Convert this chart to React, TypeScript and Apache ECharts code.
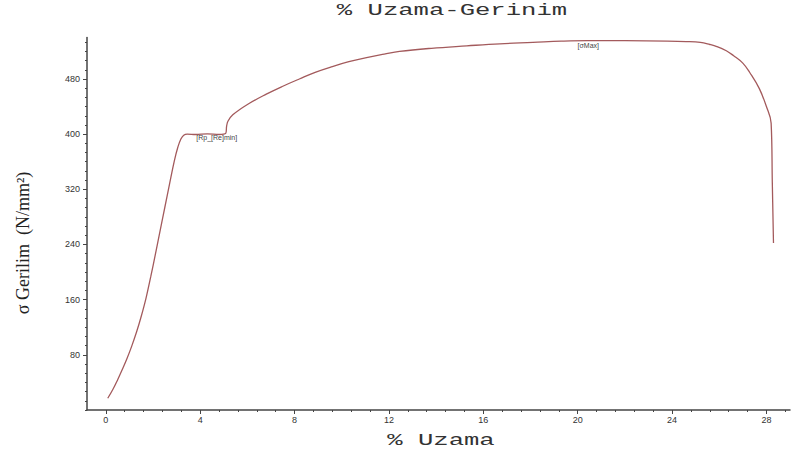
import React, { useEffect, useRef } from "react";
import * as echarts from "echarts";

const strain = [0.08, 0.3, 0.5, 0.7, 0.9, 1.1, 1.3, 1.5, 1.7, 1.9, 2.1, 2.3, 2.5, 2.7, 2.9, 3.05, 3.18, 3.3, 3.45, 3.8, 4.3, 4.8, 5.08, 5.12, 5.18, 5.38, 6.0, 6.8, 7.5, 8.2, 8.9, 9.6, 10.3, 11.05, 11.8, 12.45, 13.8, 15.3, 16.7, 18.1, 19.3, 20.4, 22.0, 23.8, 24.6, 25.2, 25.6, 25.9, 26.3, 26.6, 27.0, 27.3, 27.7, 28.0, 28.2, 28.25, 28.3];
const stress = [17, 30, 44, 59, 75, 93, 113, 136, 162, 193, 226, 260, 294, 328, 361, 381, 393, 398.5, 400, 399.5, 400.5, 399.5, 401, 412, 419, 428, 443, 458, 469.5, 480, 490, 498, 505, 511, 516, 520, 524.5, 528, 531, 533, 534.8, 535.6, 535.5, 535, 534.3, 533, 530, 527, 521, 514, 503, 489, 466, 440, 416, 330, 242];

const xMajorTicks = [0, 4, 8, 12, 16, 20, 24, 28];
const yMajorTicks = [80, 160, 240, 320, 400, 480];

const annotations = [
  { x: 4.7, y: 395, text: "[Rp_[Re]min]" },
  { x: 20.45, y: 529, text: "[σMax]" },
];

export default function App() {
  const ref = useRef<HTMLDivElement>(null);
  useEffect(() => {
    if (!ref.current) return;
    const chart = echarts.init(ref.current, undefined, { renderer: "svg" });
    const xMinor: number[] = [];
    for (let i = 0; i <= 36; i++) xMinor.push(+(i * 0.8).toFixed(2));
    const yMinor: number[] = [];
    for (let i = 0; i <= 40; i++) {
      const v = +(i * 80 / 6).toFixed(3);
      if (v <= 540) yMinor.push(v);
    }
    const axisColor = "#444";
    const data = strain.map((s, i) => [s, stress[i]]);
    chart.setOption({
      animation: false,
      backgroundColor: "#fff",
      grid: { left: 87, right: 2, top: 37.6, bottom: 44 },
      xAxis: [
        {
          type: "value",
          min: -0.8,
          max: 29,
          axisLine: { show: true, onZero: false, lineStyle: { color: axisColor, width: 1.5 } },
          axisTick: { show: true, customValues: xMajorTicks, length: 4, lineStyle: { color: axisColor } },
          axisLabel: { customValues: xMajorTicks, color: "#333", fontSize: 9, fontFamily: "Liberation Sans", margin: 5 },
          splitLine: { show: false },
        },
        {
          type: "value",
          min: -0.8,
          max: 29,
          position: "bottom",
          axisLine: { show: false, onZero: false },
          axisTick: { show: true, customValues: xMinor, length: 2, lineStyle: { color: axisColor } },
          axisLabel: { show: false },
          splitLine: { show: false },
        },
      ],
      yAxis: [
        {
          type: "value",
          min: 0,
          max: 540,
          axisLine: { show: true, onZero: false, lineStyle: { color: axisColor, width: 1.5 } },
          axisTick: { show: true, customValues: yMajorTicks, length: 4, lineStyle: { color: axisColor } },
          axisLabel: { customValues: yMajorTicks, color: "#333", fontSize: 9, fontFamily: "Liberation Sans", margin: 7 },
          splitLine: { show: false },
        },
        {
          type: "value",
          min: 0,
          max: 540,
          position: "left",
          axisLine: { show: false, onZero: false },
          axisTick: { show: true, customValues: yMinor, length: 2, lineStyle: { color: axisColor } },
          axisLabel: { show: false },
          splitLine: { show: false },
        },
      ],
      series: [
        {
          type: "line",
          xAxisIndex: 0,
          yAxisIndex: 0,
          data,
          showSymbol: false,
          smooth: 0.4,
          lineStyle: { color: "#a35a5c", width: 1.3 },
          markPoint: {
            symbol: "circle",
            symbolSize: 0,
            data: annotations.map((a) => ({
              coord: [a.x, a.y],
              label: {
                show: true,
                formatter: a.text,
                position: "inside",
                color: "#444",
                fontSize: 7,
                fontFamily: "Liberation Sans",
              },
            })),
          },
        },
      ],
      graphic: [
        {
          type: "text",
          x: 452,
          y: 11,
          scaleX: 1.6,
          style: {
            text: "% Uzama-Gerinim",
            font: "16px 'Liberation Mono'",
            fill: "#333",
            textAlign: "center",
            textVerticalAlign: "middle",
          },
        },
        {
          type: "text",
          x: 441,
          y: 441,
          scaleX: 1.6,
          style: {
            text: "% Uzama",
            font: "16px 'Liberation Mono'",
            fill: "#333",
            textAlign: "center",
            textVerticalAlign: "middle",
          },
        },
        {
          type: "text",
          x: 23,
          y: 243,
          rotation: Math.PI / 2,
          style: {
            text: "σ Gerilim  (N/mm²)",
            font: "18px 'Liberation Serif'",
            fill: "#222",
            textAlign: "center",
            textVerticalAlign: "middle",
          },
        },
      ],
    });
    return () => chart.dispose();
  }, []);
  return (
    <div
      ref={ref}
      style={{ position: "fixed", left: 0, top: 0, width: 792, height: 454, background: "#fff" }}
    />
  );
}
